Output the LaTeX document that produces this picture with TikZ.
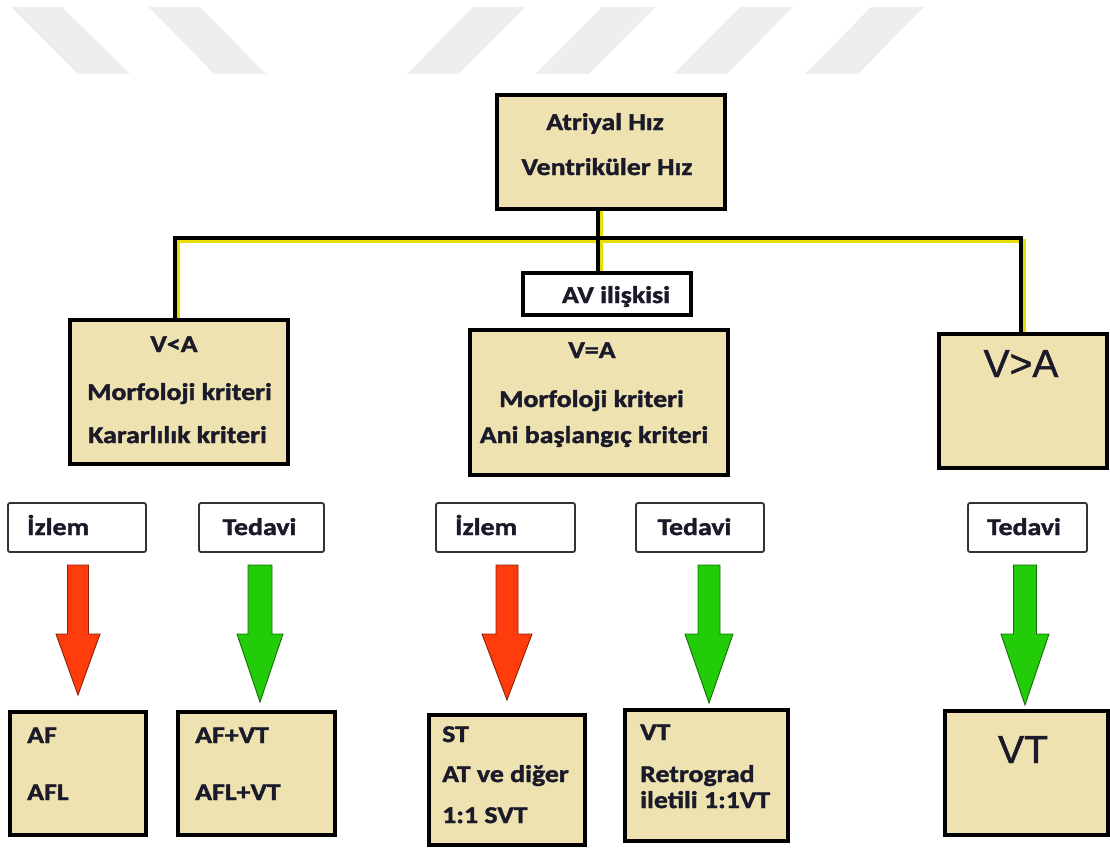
\documentclass[tikz,border=0pt]{standalone}
\usepackage{fontspec}
\usetikzlibrary{calc}
\newfontfamily\lblfont{Carlito}[FakeStretch=1.16, FakeBold=1.6]
\newfontfamily\bigfont{Liberation Sans}[FakeBold=1.2]
\definecolor{tanc}{HTML}{EEE2B0}
\definecolor{txtc}{HTML}{1A1A2A}
\definecolor{wmark}{HTML}{EEEEEE}
\definecolor{redc}{HTML}{FF3C0C}
\definecolor{greenc}{HTML}{22CC08}
\definecolor{yelc}{HTML}{E6DE00}
\newcommand\fatarrow[5]{%
  \filldraw[fill=#1, draw=#1!55!black, line width=0.9pt, line join=miter]
    ({#2-#3},565) -- ({#2+#3},565) -- ({#2+#3},634) -- ({#2+#4},634) --
    (#2,#5) -- ({#2-#4},634) -- ({#2-#3},634) -- cycle;}
\begin{document}
\begin{tikzpicture}[x=1pt,y=-1pt,
  tanbox/.style={draw=black, line width=4pt, fill=tanc, inner sep=0pt},
  avbox/.style={draw=black, line width=4pt, fill=white, inner sep=0pt},
  lblbox/.style={draw=black!80, line width=1.8pt, rounded corners=2pt, fill=white, inner sep=0pt},
  txt/.style={font=\lblfont\bfseries\fontsize{24}{28}\selectfont, text=txtc, inner sep=0pt, anchor=base},
  txtl/.style={txt, anchor=base west},
  bigtxt/.style={font=\bigfont\fontsize{39}{44}\selectfont, text=txtc, inner sep=0pt, anchor=base},
  conn/.style={draw=black, line width=4pt},
  connshadow/.style={draw=yelc, line width=4pt}
]
\useasboundingbox[fill=white] (0,0) rectangle (1110,848);
% watermark stripes
\fill[wmark] (11,7) -- (62,7) -- (130,74) -- (78,74) -- cycle;
\fill[wmark] (149,7) -- (200,7) -- (266,74) -- (214,74) -- cycle;
\fill[wmark] (473,7) -- (525,7) -- (458,74) -- (407,74) -- cycle;
\fill[wmark] (602,7) -- (655,7) -- (589,74) -- (536,74) -- cycle;
\fill[wmark] (740,7) -- (793,7) -- (727,74) -- (674,74) -- cycle;
\fill[wmark] (871,7) -- (924,7) -- (858,74) -- (805,74) -- cycle;

% boxes
\node[tanbox, minimum width=228pt, minimum height=114pt] (top) at (611,152) {};
\node[avbox, minimum width=168pt, minimum height=42pt] (av) at (607,294) {};
\node[tanbox, minimum width=218pt, minimum height=144pt] (va) at (179,392) {};
\node[tanbox, minimum width=258pt, minimum height=145pt] (ve) at (599,402.5) {};
\node[tanbox, minimum width=168pt, minimum height=134pt] (vg) at (1023,401) {};

\node[lblbox, minimum width=138pt, minimum height=49pt] (iz1) at (77,527.5) {};
\node[lblbox, minimum width=125pt, minimum height=49pt] (te1) at (261.5,527.5) {};
\node[lblbox, minimum width=139pt, minimum height=49pt] (iz2) at (505.5,527.5) {};
\node[lblbox, minimum width=128pt, minimum height=49pt] (te2) at (700,527.5) {};
\node[lblbox, minimum width=119pt, minimum height=49pt] (te3) at (1027.5,527.5) {};

\node[tanbox, minimum width=136pt, minimum height=123pt] (r1) at (78,773.5) {};
\node[tanbox, minimum width=157pt, minimum height=123pt] (r2) at (256.5,773.5) {};
\node[tanbox, minimum width=156pt, minimum height=130pt] (r3) at (507,780) {};
\node[tanbox, minimum width=163pt, minimum height=131pt] (r4) at (706.5,775.5) {};
\node[tanbox, minimum width=163pt, minimum height=124pt] (r5) at (1026.5,773) {};

% connectors
\coordinate (hl) at (175,238);
\coordinate (hr) at (1021,238);
\coordinate (hm) at (598,238);
\path[connshadow] ($(va.north -| hl)+(3,0)$) -- ($(hl)+(3,3)$) -- ($(hr)+(3,3)$) -- ($(vg.north -| hr)+(3,0)$);
\path[connshadow] ($(top.south -| hm)+(3,0)$) -- ($(av.north -| hm)+(3,0)$);
\path[conn] (va.north -| hl) -- (hl) -- (hr) -- (vg.north -| hr);
\path[conn] (top.south -| hm) -- (av.north -| hm);
% redraw box borders over connector ends
\node[tanbox, minimum width=218pt, minimum height=144pt] at (va) {};
\node[tanbox, minimum width=168pt, minimum height=134pt] at (vg) {};
\node[tanbox, minimum width=228pt, minimum height=114pt] at (top) {};
\node[avbox, minimum width=168pt, minimum height=42pt] at (av) {};

% arrows
\fatarrow{redc}{78}{10.5}{22}{695}
\fatarrow{greenc}{260}{12}{23}{702}
\fatarrow{redc}{507}{11}{25}{700}
\fatarrow{greenc}{709}{11}{24}{703}
\fatarrow{greenc}{1025}{11.5}{24}{705}

% texts
\node[txt] (t1) at (605,130) {Atriyal Hız};
\node[txt] (t2) at (607,175) {Ventriküler Hız};
\node[txt] (t3) at (616,303) {AV ilişkisi};
\node[txt] (t4) at (174,352) {V<A};
\node[txt] (t5) at (179.5,400) {Morfoloji kriteri};
\node[txt] (t6) at (177.5,443) {Kararlılık kriteri};
\node[txt] (t7) at (592,358) {V=A};
\node[txt] (t8) at (591.5,407) {Morfoloji kriteri};
\node[txt] (t9) at (594,443) {Ani başlangıç kriteri};
\node[bigtxt] (t10) at (1021,377) {V>A};

\node[txtl] (t11) at (27,535) {İzlem};
\node[txt] (t12) at (259.5,535) {Tedavi};
\node[txtl] (t13) at (455,535) {İzlem};
\node[txt] (t14) at (694.5,535) {Tedavi};
\node[txt] (t15) at (1024,535) {Tedavi};

\node[txtl] (t16) at (27,743) {AF};
\node[txtl] (t17) at (27,800) {AFL};
\node[txtl] (t18) at (195,743) {AF+VT};
\node[txtl] (t19) at (195,800) {AFL+VT};
\node[txtl] (t20) at (442,742) {ST};
\node[txtl] (t21) at (442,782) {AT ve diğer};
\node[txtl] (t22) at (442,823) {1:1 SVT};
\node[txtl] (t23) at (640,740) {VT};
\node[txtl] (t24) at (640,782) {Retrograd};
\node[txtl] (t25) at (640,808) {iletili 1:1VT};
\node[bigtxt] (t26) at (1023,763) {VT};
\end{tikzpicture}
\end{document}
